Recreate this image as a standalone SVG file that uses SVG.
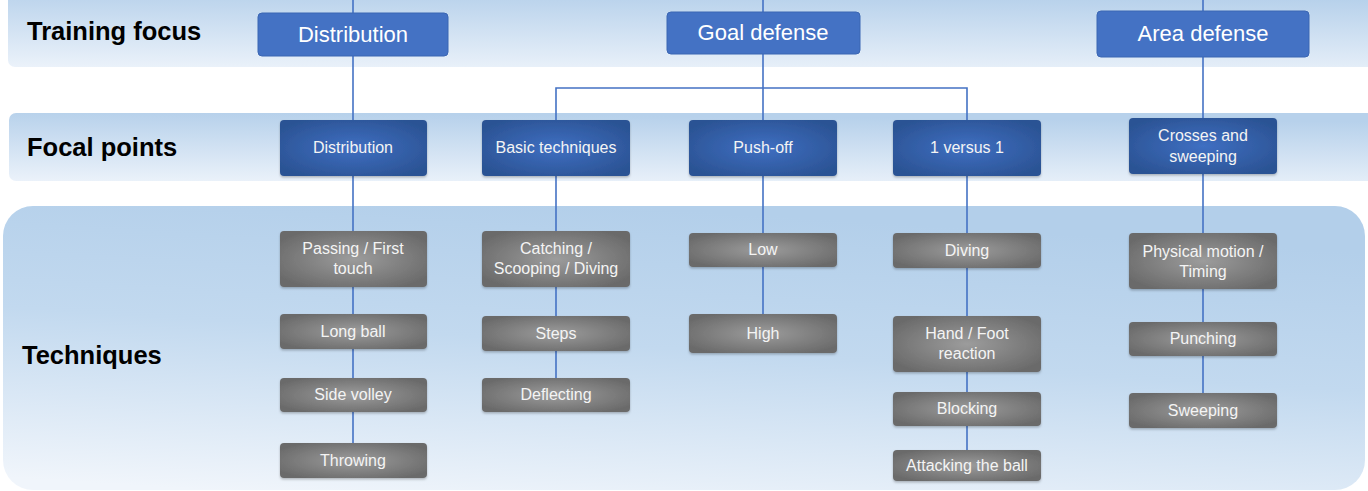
<svg xmlns="http://www.w3.org/2000/svg" width="1368" height="491" viewBox="0 0 1368 491">
<defs>
<linearGradient id="bandG" x1="0" y1="1" x2="0.15" y2="0">
<stop offset="0" stop-color="#ebf2fa"/>
<stop offset="1" stop-color="#b7d1eb"/>
</linearGradient>
<linearGradient id="band3G" x1="0.15" y1="1" x2="0.45" y2="0">
<stop offset="0" stop-color="#f0f5fb"/>
<stop offset="0.55" stop-color="#c2d9ef"/>
<stop offset="1" stop-color="#b3cfea"/>
</linearGradient>
<radialGradient id="focG" cx="0.5" cy="0.5" r="0.6">
<stop offset="0" stop-color="#3f6fc2"/>
<stop offset="1" stop-color="#2b5394"/>
</radialGradient>
<radialGradient id="techG" cx="0.5" cy="0.5" r="0.6">
<stop offset="0" stop-color="#9c9c9c"/>
<stop offset="1" stop-color="#6a6a6a"/>
</radialGradient>
<filter id="sh" x="-10%" y="-20%" width="120%" height="150%">
<feDropShadow dx="0" dy="1.5" stdDeviation="1.2" flood-color="#000" flood-opacity="0.25"/>
</filter>
</defs>
<style>
.lbl{font-family:"Liberation Sans",Arial,sans-serif;font-weight:bold;font-size:25.5px;fill:#000}
.t1{font-family:"Liberation Sans",Arial,sans-serif;font-size:22px;fill:#fff;text-anchor:middle}
.t2{font-family:"Liberation Sans",Arial,sans-serif;font-size:16px;fill:#f4f4f4;text-anchor:middle}
.train{fill:#4472c4;stroke:#3b66b3;stroke-width:1}
.foc{fill:url(#focG);filter:url(#sh)}
.tech{fill:url(#techG);filter:url(#sh)}
.con{stroke:#4472c4;stroke-width:1.6;fill:none}
</style>
<g id="bands">
<rect x="8" y="-10" width="1370" height="77" rx="7" fill="url(#bandG)"/>
<rect x="9" y="113" width="1369" height="68" rx="7" fill="url(#bandG)"/>
<rect x="3" y="206" width="1362" height="284" rx="30" fill="url(#band3G)"/>
<text class="lbl" x="27" y="40">Training focus</text>
<text class="lbl" x="27" y="156">Focal points</text>
<text class="lbl" x="22" y="364">Techniques</text>
</g>
<g id="connectors">
<path class="con" d="M353 0V443"/>
<path class="con" d="M763 0V314"/>
<path class="con" d="M556 120V88H967V120"/>
<path class="con" d="M556 176V378"/>
<path class="con" d="M967 176V450"/>
<path class="con" d="M1203 0V393"/>
</g>
<g id="n-train-distribution"><rect class="train" x="258" y="13" width="190" height="43" rx="4"/><text class="t1" x="353" y="42">Distribution</text></g>
<g id="n-train-goal"><rect class="train" x="667" y="12" width="193" height="42" rx="4"/><text class="t1" x="763" y="40">Goal defense</text></g>
<g id="n-train-area"><rect class="train" x="1097" y="11" width="212" height="46" rx="4"/><text class="t1" x="1203" y="41">Area defense</text></g>

<g id="n-foc-distribution"><rect class="foc" x="280" y="120" width="147" height="56" rx="4"/><text class="t2" x="353" y="153">Distribution</text></g>
<g id="n-foc-basic"><rect class="foc" x="482" y="120" width="148" height="56" rx="4"/><text class="t2" x="556" y="153">Basic techniques</text></g>
<g id="n-foc-push"><rect class="foc" x="689" y="120" width="148" height="56" rx="4"/><text class="t2" x="763" y="153">Push-off</text></g>
<g id="n-foc-1v1"><rect class="foc" x="893" y="120" width="148" height="56" rx="4"/><text class="t2" x="967" y="153">1 versus 1</text></g>
<g id="n-foc-crosses"><rect class="foc" x="1129" y="118" width="148" height="56" rx="4"/><text class="t2" x="1203" y="141">Crosses and</text><text class="t2" x="1203" y="162">sweeping</text></g>

<g id="n-passing"><rect class="tech" x="280" y="231" width="147" height="56" rx="4"/><text class="t2" x="353" y="254">Passing / First</text><text class="t2" x="353" y="274">touch</text></g>
<g id="n-longball"><rect class="tech" x="280" y="314" width="147" height="35" rx="4"/><text class="t2" x="353" y="337">Long ball</text></g>
<g id="n-sidevolley"><rect class="tech" x="280" y="378" width="147" height="34" rx="4"/><text class="t2" x="353" y="400">Side volley</text></g>
<g id="n-throwing"><rect class="tech" x="280" y="443" width="147" height="35" rx="4"/><text class="t2" x="353" y="466">Throwing</text></g>

<g id="n-catching"><rect class="tech" x="482" y="231" width="148" height="56" rx="4"/><text class="t2" x="556" y="254">Catching /</text><text class="t2" x="556" y="274">Scooping / Diving</text></g>
<g id="n-steps"><rect class="tech" x="482" y="316" width="148" height="35" rx="4"/><text class="t2" x="556" y="339">Steps</text></g>
<g id="n-deflecting"><rect class="tech" x="482" y="378" width="148" height="34" rx="4"/><text class="t2" x="556" y="400">Deflecting</text></g>

<g id="n-low"><rect class="tech" x="689" y="233" width="148" height="34" rx="4"/><text class="t2" x="763" y="255">Low</text></g>
<g id="n-high"><rect class="tech" x="689" y="314" width="148" height="39" rx="4"/><text class="t2" x="763" y="339">High</text></g>

<g id="n-diving"><rect class="tech" x="893" y="233" width="148" height="35" rx="4"/><text class="t2" x="967" y="256">Diving</text></g>
<g id="n-handfoot"><rect class="tech" x="893" y="316" width="148" height="56" rx="4"/><text class="t2" x="967" y="339">Hand / Foot</text><text class="t2" x="967" y="359">reaction</text></g>
<g id="n-blocking"><rect class="tech" x="893" y="392" width="148" height="34" rx="4"/><text class="t2" x="967" y="414">Blocking</text></g>
<g id="n-attacking"><rect class="tech" x="893" y="450" width="148" height="31" rx="4"/><text class="t2" x="967" y="471">Attacking the ball</text></g>

<g id="n-physical"><rect class="tech" x="1129" y="233" width="148" height="56" rx="4"/><text class="t2" x="1203" y="257">Physical motion /</text><text class="t2" x="1203" y="277">Timing</text></g>
<g id="n-punching"><rect class="tech" x="1129" y="322" width="148" height="34" rx="4"/><text class="t2" x="1203" y="344">Punching</text></g>
<g id="n-sweeping"><rect class="tech" x="1129" y="393" width="148" height="35" rx="4"/><text class="t2" x="1203" y="416">Sweeping</text></g>
</svg>
